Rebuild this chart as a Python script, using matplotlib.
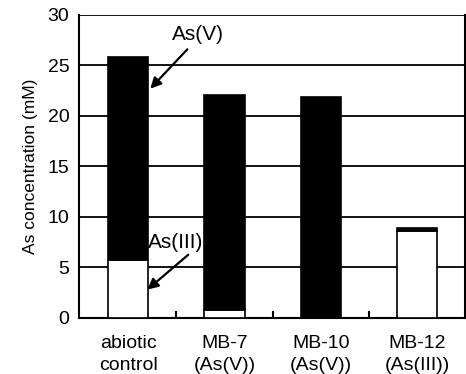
import numpy as np
import matplotlib.pyplot as plt

plt.rcParams['font.family'] = ['Liberation Sans', 'DejaVu Sans']

# data (mM)
groups = ["abiotic\ncontrol", "MB-7\n(As(V))", "MB-10\n(As(V))", "MB-12\n(As(III))"]
as3 = [5.7, 0.8, 0.0, 8.6]
total = [25.8, 22.1, 21.9, 8.9]
as5 = [t - a for t, a in zip(total, as3)]

fig = plt.figure(figsize=(4.66, 3.74), dpi=100)
ax = fig.add_axes([0.1695, 0.15, 0.829, 0.81])

x = np.arange(len(groups))
w = 0.42
ax.set_axisbelow(True)
ax.yaxis.grid(True, color='black', linewidth=1.3)
ax.bar(x, as3, w, color='white', edgecolor='black', linewidth=1.2, zorder=3)
ax.bar(x, as5, w, bottom=as3, color='black', edgecolor='black', linewidth=1.2, zorder=3)

ax.set_xlim(-0.51, 3.5)
ax.set_ylim(0, 30)
ax.set_yticks(np.arange(0, 31, 5))
ax.set_xticks(x)
ax.set_xticklabels(groups, fontsize=14, linespacing=1.45)
ax.set_xticks([0.5, 1.5, 2.5], minor=True)
ax.tick_params(axis='x', which='major', length=0, pad=12)
ax.tick_params(axis='x', which='minor', direction='in', length=5, width=1.5)
ax.tick_params(axis='y', length=0, labelsize=14, pad=7)
ax.set_ylabel("As concentration (mM)", fontsize=12.5, labelpad=7)

for s in ['left', 'bottom', 'right']:
    ax.spines[s].set_linewidth(1.5)
ax.spines['top'].set_visible(False)

arrow = dict(arrowstyle='-|>', color='black', lw=1.6,
             shrinkA=0, shrinkB=0, mutation_scale=16)
ax.text(0.72, 28.1, "As(V)", fontsize=15, ha='center', va='center')
ax.annotate("", xy=(0.23, 22.7), xytext=(0.615, 26.6), arrowprops=arrow)
ax.text(0.49, 7.45, "As(III)", fontsize=15, ha='center', va='center')
ax.annotate("", xy=(0.2, 2.8), xytext=(0.625, 6.26), arrowprops=arrow)

fig.savefig("out.png", dpi=100)
